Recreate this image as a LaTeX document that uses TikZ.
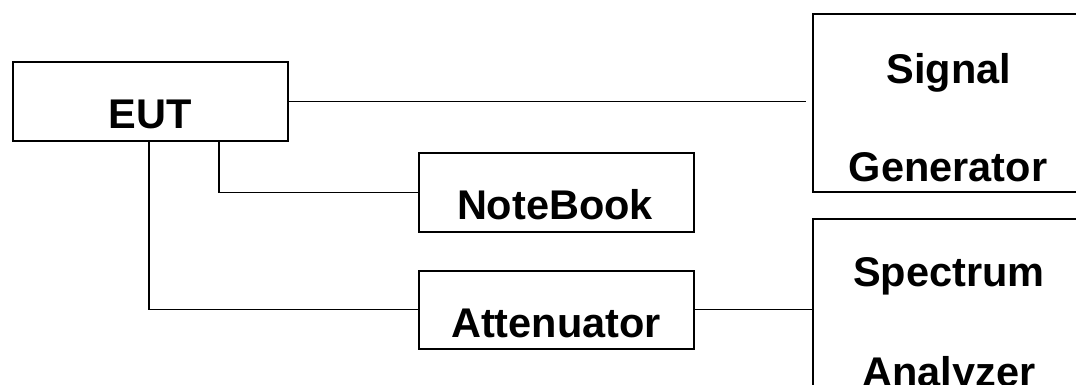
\documentclass[tikz,border=0pt]{standalone}
\usepackage{fontspec}
\setmainfont{Liberation Sans}
\begin{document}
\begin{tikzpicture}[x=1pt,y=-1pt,
  box/.style={draw=black,line width=1.6pt,rectangle,inner sep=0pt,anchor=north west},
  lbl/.style={anchor=base,inner sep=0pt,font=\fontsize{41.5}{50}\selectfont\bfseries},
  wire/.style={draw=black,line width=1.3pt}]
\useasboundingbox (0,0) rectangle (1076,384);
\clip (0,0) rectangle (1076,384);
\fill[white] (0,0) rectangle (1076,384);
% boxes
\node[box,minimum width=275pt,minimum height=79pt] (eut) at (12,61) {};
\node[box,minimum width=275pt,minimum height=79pt] (nb) at (418,152) {};
\node[box,minimum width=275pt,minimum height=78pt] (att) at (418,270) {};
\node[box,minimum width=273pt,minimum height=178pt] (sg) at (812,13) {};
\node[box,minimum width=273pt,minimum height=200pt] (sa) at (812,218) {};
% labels
\node[lbl] (teut) at (150,128) {EUT};
\node[lbl] (tnb) at (555,219) {NoteBook};
\node[lbl] (tatt) at (556,337) {Attenuator};
\node[lbl] (tsg1) at (949,83) {Signal};
\node[lbl] (tsg2) at (948,181) {Generator};
\node[lbl] (tsa1) at (949,286) {Spectrum};
\node[lbl] (tsa2) at (949,386) {Analyzer};
% connectors
\draw[wire,shorten >=6pt] (eut.east) -- (eut.east -| sg.west);
\draw[wire] ([xshift=207pt]eut.south west) |- (nb.west);
\draw[wire] ([xshift=137pt]eut.south west) |- (att.west);
\draw[wire] (att.east) -- (att.east -| sa.west);
\end{tikzpicture}
\end{document}
